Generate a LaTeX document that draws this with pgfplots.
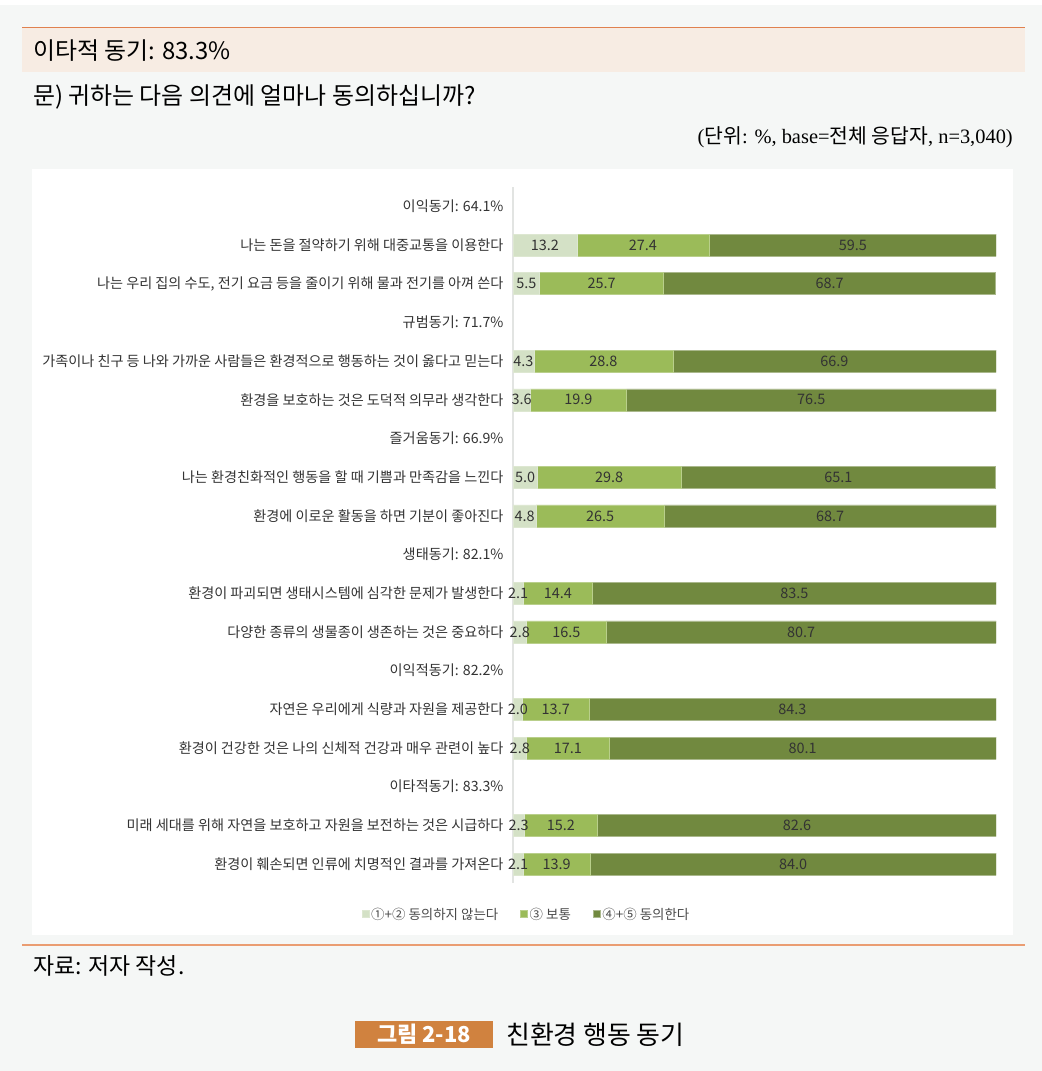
\documentclass[border=0pt]{standalone}
\usepackage{fontspec}
\setmainfont{Noto Sans CJK KR}
\newfontfamily\serif{Liberation Serif}
\usepackage{pgfplots}
\usepackage{pgfplotstable}
\pgfplotsset{compat=1.18}

\definecolor{pagebg}{HTML}{F5F7F6}
\definecolor{peach}{HTML}{F7ECE3}
\definecolor{topline}{HTML}{E0814F}
\definecolor{botline}{HTML}{EA9D72}
\definecolor{capbox}{HTML}{D0823F}
\definecolor{cone}{HTML}{D4E1C6}
\definecolor{ctwo}{HTML}{9BBB59}
\definecolor{cthree}{HTML}{71893F}
\definecolor{lbl}{HTML}{333333}
\definecolor{legtxt}{HTML}{4A4A4A}
\definecolor{axisgray}{HTML}{E2E4E2}

% row index, disagree (1+2), neutral (3), agree (4+5)
\pgfplotstableread{
idx a b c
1 13.2 27.4 59.5
2 5.5 25.7 68.7
4 4.3 28.8 66.9
5 3.6 19.9 76.5
7 5.0 29.8 65.1
8 4.8 26.5 68.7
10 2.1 14.4 83.5
11 2.8 16.5 80.7
13 2.0 13.7 84.3
14 2.8 17.1 80.1
16 2.3 15.2 82.6
17 2.1 13.9 84.0
}\motive

\pgfplotsset{
  motivegeom/.style={
    at={(513bp,-187bp)}, anchor=north west,
    scale only axis, width=483bp, height=696.4bp,
    xmin=0, xmax=100, ymin=-0.5, ymax=17.5, y dir=reverse,
  },
}

\begin{document}
\begin{tikzpicture}
\useasboundingbox (0,0) rectangle (1042bp,-1071bp);
\fill[pagebg] (0,0) rectangle (1042bp,-1071bp);
\fill[white] (0,0) rectangle (1042bp,-5bp);

% header
\fill[peach] (22bp,-28bp) rectangle (1025bp,-72bp);
\draw[topline, line width=1.2bp] (22bp,-27.5bp) -- (1025bp,-27.5bp);
\node[anchor=west, inner sep=0pt, font=\fontsize{24}{27}\selectfont] at (33bp,-51bp) {이타적 동기: 83.3\%};
\node[anchor=west, inner sep=0pt, font=\fontsize{24}{27}\selectfont] at (33bp,-97bp) {문) 귀하는 다음 의견에 얼마나 동의하십니까?};
\node[anchor=east, inner sep=0pt, font=\fontsize{20.5}{23}\selectfont] at (1013bp,-137bp)
  {{\serif (}단위{\serif : \%, base=}전체 응답자{\serif , n=3,040)}};

% chart panel
\fill[white] (32bp,-169bp) rectangle (1013bp,-935bp);

\begin{axis}[
    motivegeom,
    xbar stacked, bar width=22bp,
    axis x line=none, axis y line*=left,
    axis line style={draw=axisgray, line width=1.3bp},
    ytick={0,...,17}, major tick length=0pt,
    yticklabels={
      {이익동기: 64.1\%},
      {나는 돈을 절약하기 위해 대중교통을 이용한다},
      {나는 우리 집의 수도, 전기 요금 등을 줄이기 위해 물과 전기를 아껴 쓴다},
      {규범동기: 71.7\%},
      {가족이나 친구 등 나와 가까운 사람들은 환경적으로 행동하는 것이 옳다고 믿는다},
      {환경을 보호하는 것은 도덕적 의무라 생각한다},
      {즐거움동기: 66.9\%},
      {나는 환경친화적인 행동을 할 때 기쁨과 만족감을 느낀다},
      {환경에 이로운 활동을 하면 기분이 좋아진다},
      {생태동기: 82.1\%},
      {환경이 파괴되면 생태시스템에 심각한 문제가 발생한다},
      {다양한 종류의 생물종이 생존하는 것은 중요하다},
      {이익적동기: 82.2\%},
      {자연은 우리에게 식량과 자원을 제공한다},
      {환경이 건강한 것은 나의 신체적 건강과 매우 관련이 높다},
      {이타적동기: 83.3\%},
      {미래 세대를 위해 자연을 보호하고 자원을 보전하는 것은 시급하다},
      {환경이 훼손되면 인류에 치명적인 결과를 가져온다},
    },
    yticklabel style={font=\fontsize{14.2}{16}\selectfont, text=lbl, xshift=-6bp},
    legend image code/.code={\fill[#1] (0bp,-3.5bp) rectangle (7bp,3.5bp);},
    legend style={at={(0.028,-0.044)}, anchor=center, draw=none, fill=none,
      legend columns=3, font=\fontsize{13.5}{15}\selectfont, text=legtxt,
      /tikz/every even column/.append style={column sep=20bp}},
]
\addplot[fill=cone, draw=cone!80!white, line width=0.5bp] table[x=a, y=idx]{\motive};
\addlegendentry{①+② 동의하지 않는다}
\addplot[fill=ctwo, draw=ctwo!70!white, line width=0.5bp] table[x=b, y=idx]{\motive};
\addlegendentry{③ 보통}
\addplot[fill=cthree, draw=cthree!60!white, line width=0.5bp] table[x=c, y=idx]{\motive};
\addlegendentry{④+⑤ 동의한다}
\end{axis}

% value labels centred in each segment
\begin{axis}[
    motivegeom, hide axis, clip=false,
    nodes near coords, point meta=explicit,
    every node near coord/.append style={anchor=center, inner sep=0pt,
      font=\fontsize{14.5}{16}\selectfont, text=lbl},
    /pgf/number format/.cd, fixed, fixed zerofill, precision=1, assume math mode=true,
]
\addplot[draw=none] table[x expr=\thisrow{a}/2, y=idx, meta=a]{\motive};
\addplot[draw=none] table[x expr=\thisrow{a}+\thisrow{b}/2, y=idx, meta=b]{\motive};
\addplot[draw=none] table[x expr=\thisrow{a}+\thisrow{b}+\thisrow{c}/2, y=idx, meta=c]{\motive};
\end{axis}

% footer
\draw[botline, line width=2bp] (22bp,-945bp) -- (1025bp,-945bp);
\node[anchor=west, inner sep=0pt, font=\fontsize{23}{26}\selectfont] at (33bp,-966bp) {자료: 저자 작성.};
\fill[capbox] (355bp,-1021bp) rectangle (493bp,-1048bp);
\node[inner sep=0pt, text=white, font=\fontsize{22}{25}\selectfont\bfseries] at (424bp,-1034.5bp) {그림 2-18};
\node[anchor=west, inner sep=0pt, font=\fontsize{26}{29}\selectfont] at (506bp,-1034.5bp) {친환경 행동 동기};
\end{tikzpicture}
\end{document}
